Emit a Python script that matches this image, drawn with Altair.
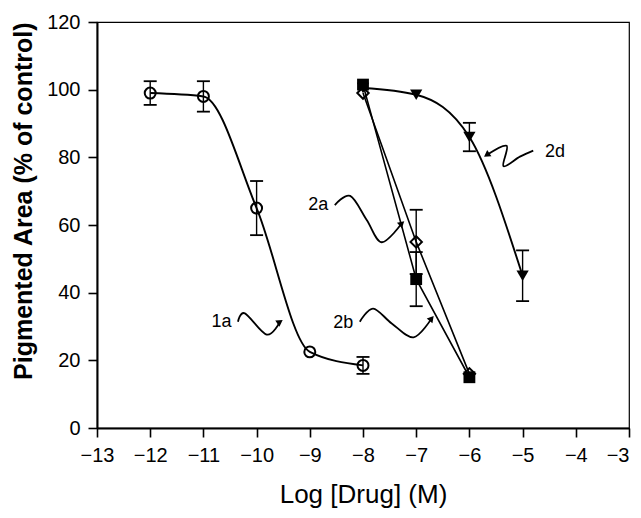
import altair as alt
import pandas as pd

# ---- data ----
x_1a = [-12, -11, -10, -9, -8]
y_1a = [99, 98, 65, 22.5, 18.5]
e_1a = [3.5, 4.5, 8, 0, 2.5]

x_2a = [-8, -7, -6]
y_2a = [99, 55, 16]
e_2a = [0, 9.5, 0]

x_2b = [-8, -7, -6]
y_2b = [101.5, 44, 15]
e_2b = [0, 8, 0]

x_2d = [-8, -7, -6, -5]
y_2d = [100.5, 98.5, 86, 45]
e_2d = [0, 0, 4.2, 7.5]

# annotation labels and curly arrows (data units)
lab_names = ["1a", "2a", "2b", "2d"]
lab_x = [-10.66, -8.84, -8.37, -4.39]
lab_y = [31.4, 65.9, 31.0, 81.7]

sq_1a = [(-10.35, 31.4), (-10.22, 33.9), (-9.81, 27.6), (-9.56, 31.4)]
sq_2a = [(-8.53, 65.9), (-8.24, 68.6), (-7.93, 61.5), (-7.65, 54.9), (-7.27, 60.5)]
sq_2b = [(-8.06, 31.4), (-7.81, 35.3), (-7.46, 30.9), (-7.05, 26.8), (-6.71, 32.4)]
sq_2d = [(-4.80, 82.0), (-5.05, 80.2), (-5.36, 77.4), (-5.30, 83.4), (-5.675, 80.7)]
arrow_angle = [56, 48, 40, 235]

# ---- build tables ----
rows = []
for name, xs, ys, es in [("1a", x_1a, y_1a, e_1a), ("2a", x_2a, y_2a, e_2a),
                         ("2b", x_2b, y_2b, e_2b), ("2d", x_2d, y_2d, e_2d)]:
    for xv, yv, ev in zip(xs, ys, es):
        rows.append({"series": name, "x": xv, "y": yv, "lo": yv - ev, "hi": yv + ev, "err": ev})
df = pd.DataFrame(rows)
err_df = df[df["err"] > 0]

sq_rows = []
tips = []
for name, sq, ang in zip(lab_names, [sq_1a, sq_2a, sq_2b, sq_2d], arrow_angle):
    for i, (xv, yv) in enumerate(sq):
        sq_rows.append({"series": name, "i": i, "x": xv, "y": yv})
    tips.append({"series": name, "x": sq[-1][0], "y": sq[-1][1], "angle": ang})
sq_df = pd.DataFrame(sq_rows)
tip_df = pd.DataFrame(tips)
lab_df = pd.DataFrame({"label": lab_names, "x": lab_x, "y": lab_y})

FONT = "Liberation Sans"

xs = alt.Scale(domain=[-13, -3], nice=False, zero=False)
ys = alt.Scale(domain=[0, 120], nice=False, zero=False)

X = alt.X("x:Q", scale=xs, title="Log [Drug] (M)",
          axis=alt.Axis(values=list(range(-13, -2)), format="d", titlePadding=16,
                        labelFlush=False, labelOverlap=False,
                        labelAlign=alt.ExprRef(expr="datum.value == -3 ? 'right' : 'center'")))
Y = alt.Y("y:Q", scale=ys, title="Pigmented Area (% of control)",
          axis=alt.Axis(values=list(range(0, 121, 20)), titlePadding=10,
                        titleAnchor="end", labelFlush=False, labelOverlap=False))

base = alt.Chart(df)

curve_1a = base.transform_filter(alt.datum.series == "1a").mark_line(
    interpolate="monotone", color="black", strokeWidth=1.9).encode(x=X, y=Y)
curve_2d = base.transform_filter(alt.datum.series == "2d").mark_line(
    interpolate="monotone", color="black", strokeWidth=1.9).encode(x=X, y=Y)
lines_2ab = base.transform_filter(
    (alt.datum.series == "2a") | (alt.datum.series == "2b")).mark_line(
    color="black", strokeWidth=1.6).encode(x=X, y=Y, detail="series:N")

shape_scale = alt.Scale(domain=["1a", "2a", "2b", "2d"],
                        range=["circle", "diamond", "square", "triangle-down"])
size_scale = alt.Scale(domain=["1a", "2a", "2b", "2d"], range=[120, 150, 130, 110])

open_pts = base.transform_filter(
    (alt.datum.series == "1a") | (alt.datum.series == "2a")).mark_point(
    filled=False, color="black", strokeWidth=2, opacity=1).encode(
    x=X, y=Y, shape=alt.Shape("series:N", scale=shape_scale, legend=None),
    size=alt.Size("series:N", scale=size_scale, legend=None))
filled_pts = base.transform_filter(
    (alt.datum.series == "2b") | (alt.datum.series == "2d")).mark_point(
    filled=True, color="black", opacity=1).encode(
    x=X, y=Y, shape=alt.Shape("series:N", scale=shape_scale, legend=None),
    size=alt.Size("series:N", scale=size_scale, legend=None))

ebase = alt.Chart(err_df)
err_rules = ebase.mark_rule(color="black", strokeWidth=1.4).encode(
    x=X, y=alt.Y("lo:Q", scale=ys), y2="hi:Q")
cap_lo = ebase.mark_tick(color="black", orient="horizontal", size=13, thickness=1.8,
                         opacity=1).encode(x=X, y=alt.Y("lo:Q", scale=ys))
cap_hi = ebase.mark_tick(color="black", orient="horizontal", size=13, thickness=1.8,
                         opacity=1).encode(x=X, y=alt.Y("hi:Q", scale=ys))

squiggles = alt.Chart(sq_df).mark_line(
    interpolate="cardinal", color="black", strokeWidth=1.8).encode(
    x=X, y=Y, detail="series:N", order="i:Q")
arrows = alt.Chart(tip_df).mark_point(
    shape="triangle-up", filled=True, color="black", size=55, opacity=1).encode(
    x=X, y=Y, angle=alt.Angle("angle:Q", scale=None))
labels = alt.Chart(lab_df).mark_text(
    font=FONT, fontSize=18, color="black", align="center", baseline="middle").encode(
    x=X, y=Y, text="label:N")

chart = alt.layer(
    curve_1a, curve_2d, lines_2ab, open_pts, filled_pts,
    err_rules, cap_lo, cap_hi, squiggles, arrows, labels
).properties(
    width=532, height=406,
    autosize=alt.AutoSizeParams(type="none"),
    padding={"left": 89, "top": 14, "right": 4, "bottom": 80}
).configure_view(
    stroke="black", strokeWidth=1.2
).configure_axis(
    grid=False, domainColor="black", domainWidth=2, tickColor="black",
    tickWidth=1.6, tickSize=9, labelFont=FONT, labelFontSize=20,
    labelColor="black", titleFont=FONT, titleColor="black", labelPadding=8
).configure_axisX(
    titleFontSize=26, titleFontWeight="normal"
).configure_axisY(
    titleFontSize=25, titleFontWeight="bold"
)

chart.save("out.html", embed_options={"renderer": "svg", "actions": False})
